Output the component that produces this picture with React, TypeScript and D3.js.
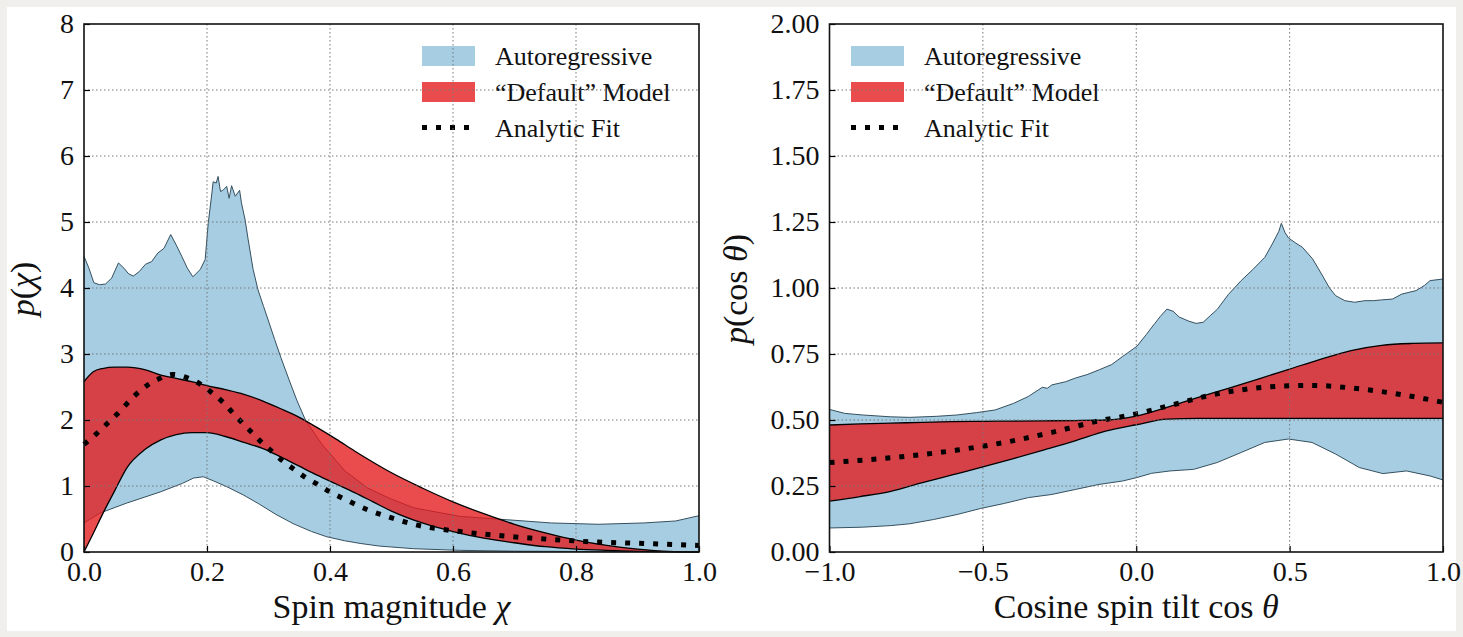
import React, { useEffect, useRef } from 'react';
import * as d3 from 'd3';

// ---- left panel: spin magnitude chi ----
const chiXTicks = [0, 0.2, 0.4, 0.6, 0.8, 1.0];
const chiYTicks = [0, 1, 2, 3, 4, 5, 6, 7, 8];

const chiAutoUpper: [number, number][] = [
  [0.0, 4.48], [0.008, 4.3], [0.016, 4.08], [0.025, 4.05], [0.035, 4.06], [0.045, 4.15],
  [0.056, 4.38], [0.065, 4.3], [0.072, 4.22], [0.08, 4.18], [0.09, 4.25], [0.1, 4.36],
  [0.11, 4.4], [0.12, 4.53], [0.13, 4.6], [0.141, 4.81], [0.15, 4.65], [0.159, 4.48],
  [0.168, 4.3], [0.177, 4.17], [0.189, 4.28], [0.197, 4.43], [0.202, 4.98], [0.208, 5.44],
  [0.21, 5.61], [0.215, 5.59], [0.218, 5.69], [0.222, 5.46], [0.227, 5.49], [0.232, 5.54],
  [0.236, 5.36], [0.24, 5.55], [0.246, 5.39], [0.253, 5.48], [0.256, 5.29], [0.262, 5.03],
  [0.267, 4.73], [0.275, 4.28], [0.283, 3.97], [0.292, 3.72], [0.3, 3.5], [0.31, 3.22],
  [0.32, 2.95], [0.333, 2.62], [0.346, 2.3], [0.36, 2.0], [0.387, 1.63], [0.424, 1.23],
  [0.461, 0.97], [0.5, 0.8], [0.536, 0.67], [0.611, 0.54], [0.686, 0.49], [0.76, 0.44],
  [0.836, 0.42], [0.91, 0.44], [0.962, 0.47], [1.0, 0.55],
];
const chiAutoLower: [number, number][] = [
  [0.0, 0.44], [0.026, 0.59], [0.069, 0.74], [0.124, 0.91], [0.16, 1.04], [0.178, 1.12],
  [0.194, 1.14], [0.21, 1.08], [0.232, 0.99], [0.26, 0.86], [0.286, 0.72], [0.312, 0.57],
  [0.34, 0.43], [0.37, 0.31], [0.395, 0.23], [0.424, 0.17], [0.449, 0.13], [0.48, 0.09],
  [0.536, 0.05], [0.611, 0.025], [0.7, 0.012], [0.8, 0.008], [1.0, 0.005],
];
const chiDefaultX = [0, 0.015, 0.03, 0.05, 0.07, 0.1, 0.125, 0.15, 0.175, 0.2, 0.23, 0.26, 0.29,
  0.32, 0.35, 0.38, 0.41, 0.44, 0.47, 0.5, 0.55, 0.6, 0.65, 0.7, 0.75, 0.8, 0.85, 0.9, 0.95, 1.0];
const chiDefaultUpper = [2.58, 2.73, 2.78, 2.8, 2.8, 2.76, 2.68, 2.63, 2.58, 2.52, 2.46, 2.39, 2.29,
  2.17, 2.04, 1.88, 1.71, 1.53, 1.36, 1.2, 0.97, 0.76, 0.58, 0.42, 0.29, 0.18, 0.1, 0.045, 0.01, 0];
const chiDefaultLower = [0, 0.28, 0.57, 0.93, 1.28, 1.56, 1.7, 1.78, 1.81, 1.81, 1.75, 1.66, 1.57,
  1.44, 1.3, 1.16, 1.03, 0.9, 0.76, 0.62, 0.44, 0.31, 0.21, 0.14, 0.08, 0.045, 0.025, 0.01, 0.003, 0];
const chiFit: [number, number][] = [
  [0.0, 1.63], [0.02, 1.79], [0.037, 1.94], [0.054, 2.09], [0.069, 2.24], [0.086, 2.4],
  [0.102, 2.52], [0.121, 2.62], [0.144, 2.69], [0.168, 2.64], [0.188, 2.55], [0.207, 2.42],
  [0.226, 2.27], [0.241, 2.12], [0.257, 1.96], [0.273, 1.81], [0.289, 1.66], [0.306, 1.52],
  [0.323, 1.38], [0.342, 1.25], [0.36, 1.13], [0.379, 1.03], [0.402, 0.9], [0.424, 0.8],
  [0.461, 0.64], [0.499, 0.52], [0.536, 0.42], [0.611, 0.31], [0.686, 0.24], [0.76, 0.19],
  [0.836, 0.15], [0.91, 0.13], [1.0, 0.1],
];

// ---- right panel: cosine spin tilt ----
const cosXTicks = [-1.0, -0.5, 0.0, 0.5, 1.0];
const cosYTicks = [0, 0.25, 0.5, 0.75, 1.0, 1.25, 1.5, 1.75, 2.0];

const cosAutoUpper: [number, number][] = [
  [-1.0, 0.54], [-0.95, 0.525], [-0.892, 0.519], [-0.8, 0.512], [-0.738, 0.51], [-0.65, 0.514],
  [-0.584, 0.519], [-0.52, 0.528], [-0.46, 0.538], [-0.4, 0.563], [-0.352, 0.589],
  [-0.306, 0.624], [-0.29, 0.62], [-0.275, 0.633], [-0.23, 0.645], [-0.198, 0.659],
  [-0.16, 0.672], [-0.121, 0.69], [-0.08, 0.71], [-0.044, 0.741], [0.002, 0.779],
  [0.033, 0.824], [0.06, 0.865], [0.079, 0.893], [0.1, 0.92], [0.12, 0.912], [0.14, 0.89],
  [0.172, 0.874], [0.195, 0.866], [0.218, 0.87], [0.241, 0.895], [0.264, 0.919], [0.3, 0.975],
  [0.342, 1.028], [0.38, 1.07], [0.419, 1.116], [0.445, 1.17], [0.465, 1.215], [0.473, 1.245],
  [0.485, 1.21], [0.496, 1.19], [0.52, 1.17], [0.542, 1.154], [0.575, 1.11], [0.604, 1.053],
  [0.63, 1.0], [0.65, 0.971], [0.68, 0.952], [0.712, 0.946], [0.745, 0.952], [0.773, 0.952],
  [0.8, 0.955], [0.835, 0.958], [0.866, 0.977], [0.912, 0.99], [0.94, 1.01], [0.958, 1.028],
  [1.0, 1.034],
];
const cosAutoLower: [number, number][] = [
  [-1.0, 0.091], [-0.892, 0.094], [-0.8, 0.1], [-0.738, 0.107], [-0.661, 0.123],
  [-0.584, 0.142], [-0.507, 0.165], [-0.43, 0.184], [-0.352, 0.206], [-0.275, 0.218],
  [-0.198, 0.237], [-0.121, 0.256], [-0.044, 0.269], [0.002, 0.282], [0.05, 0.298],
  [0.11, 0.307], [0.187, 0.313], [0.264, 0.339], [0.342, 0.377], [0.419, 0.415],
  [0.496, 0.428], [0.573, 0.415], [0.65, 0.371], [0.727, 0.32], [0.804, 0.297],
  [0.881, 0.307], [0.958, 0.288], [1.0, 0.273],
];
const cosDefaultX = [-1.0, -0.9, -0.8, -0.7, -0.6, -0.5, -0.4, -0.3, -0.2, -0.1, 0.0,
  0.1, 0.2, 0.3, 0.4, 0.5, 0.6, 0.7, 0.8, 0.9, 1.0];
const cosDefaultUpper = [0.481, 0.485, 0.488, 0.491, 0.494, 0.495, 0.496, 0.497, 0.498, 0.5, 0.515,
  0.548, 0.585, 0.62, 0.656, 0.693, 0.73, 0.763, 0.783, 0.79, 0.792];
const cosDefaultLower = [0.193, 0.21, 0.23, 0.262, 0.292, 0.322, 0.354, 0.387, 0.421, 0.458, 0.482,
  0.503, 0.506, 0.506, 0.506, 0.506, 0.506, 0.506, 0.506, 0.506, 0.506];
const cosFit: [number, number][] = [
  [-1.0, 0.339], [-0.738, 0.364], [-0.584, 0.386], [-0.43, 0.415], [-0.275, 0.453],
  [-0.121, 0.497], [0.0, 0.523], [0.11, 0.555], [0.264, 0.599], [0.419, 0.624],
  [0.573, 0.631], [0.727, 0.618], [0.881, 0.593], [1.0, 0.567],
];

const legendLabels = ['Autoregressive', '\u201cDefault\u201d Model', 'Analytic Fit'];

const BLUE = '#a6cde2';
const BLUE_EDGE = '#35505f';
const RED = '#e41a1c';
const FONT = "'Liberation Serif', 'Times New Roman', 'DejaVu Serif', serif";
const TOP = 24;
const BOTTOM = 552;

function drawPanel(svg: any, cfg: any) {
  const x = d3.scaleLinear().domain(cfg.xDomain).range([cfg.left, cfg.right]);
  const y = d3.scaleLinear().domain(cfg.yDomain).range([BOTTOM, TOP]);
  const g = svg.append('g').style('font-family', FONT);

  // autoregressive band
  const line = d3.line<[number, number]>().x(d => x(d[0])).y(d => y(d[1]));
  const poly = cfg.autoUpper.concat(cfg.autoLower.slice().reverse());
  g.append('path').attr('d', line(poly) + 'Z').attr('fill', BLUE);
  [cfg.autoUpper, cfg.autoLower].forEach((s: any) => {
    g.append('path').attr('d', line(s)).attr('fill', 'none')
      .attr('stroke', BLUE_EDGE).attr('stroke-width', 1);
  });

  // default model band
  const rows = cfg.defX.map((v: number, i: number) => ({ x: v, lo: cfg.defLower[i], hi: cfg.defUpper[i] }));
  const area = d3.area<any>().curve(d3.curveMonotoneX)
    .x(d => x(d.x)).y0(d => y(d.lo)).y1(d => y(d.hi));
  g.append('path').attr('d', area(rows)).attr('fill', RED).attr('fill-opacity', 0.78);
  const hi = d3.line<any>().curve(d3.curveMonotoneX).x(d => x(d.x)).y(d => y(d.hi));
  const lo = d3.line<any>().curve(d3.curveMonotoneX).x(d => x(d.x)).y(d => y(d.lo));
  g.append('path').attr('d', hi(rows)).attr('fill', 'none').attr('stroke', '#000').attr('stroke-width', 1.3);
  g.append('path').attr('d', lo(rows)).attr('fill', 'none').attr('stroke', '#000').attr('stroke-width', 1.3);

  // analytic fit
  const fitLine = d3.line<[number, number]>().curve(d3.curveMonotoneX).x(d => x(d[0])).y(d => y(d[1]));
  g.append('path').attr('d', fitLine(cfg.fit)).attr('fill', 'none')
    .attr('stroke', '#000').attr('stroke-width', 5).attr('stroke-dasharray', '5,9');

  // legend
  const lg = g.append('g').attr('transform', `translate(${cfg.legendX},0)`);
  lg.append('rect').attr('x', 0).attr('y', 46).attr('width', 53).attr('height', 20).attr('fill', BLUE);
  lg.append('rect').attr('x', 0).attr('y', 82).attr('width', 53).attr('height', 20)
    .attr('fill', RED).attr('fill-opacity', 0.78);
  lg.append('line').attr('x1', 0).attr('x2', 53).attr('y1', 127.5).attr('y2', 127.5)
    .attr('stroke', '#000').attr('stroke-width', 5).attr('stroke-dasharray', '5,9');
  legendLabels.forEach((t, i) => {
    lg.append('text').attr('x', 73).attr('y', 65 + i * 36)
      .style('font-family', FONT).attr('font-size', 26).attr('fill', '#111').text(t);
  });

  // grid
  cfg.xTicks.slice(1, -1).forEach((t: number) => {
    g.append('line').attr('x1', x(t)).attr('x2', x(t)).attr('y1', TOP).attr('y2', BOTTOM)
      .attr('stroke', '#777').attr('stroke-width', 1).attr('stroke-dasharray', '1.5,2.5');
  });
  cfg.yTicks.slice(1, -1).forEach((t: number) => {
    g.append('line').attr('x1', cfg.left).attr('x2', cfg.right).attr('y1', y(t)).attr('y2', y(t))
      .attr('stroke', '#777').attr('stroke-width', 1).attr('stroke-dasharray', '1.5,2.5');
  });

  // axes
  const ax = g.append('g').attr('transform', `translate(${cfg.left},0)`)
    .call(d3.axisLeft(y).tickValues(cfg.yTicks).tickSize(-6).tickPadding(10).tickFormat(cfg.yFormat));
  const bx = g.append('g').attr('transform', `translate(0,${BOTTOM})`)
    .call(d3.axisBottom(x).tickValues(cfg.xTicks).tickSize(-6).tickPadding(9).tickFormat(cfg.xFormat));
  [ax, bx].forEach(a => {
    a.attr('font-family', null);
    a.select('.domain').remove();
    a.selectAll('line').attr('stroke', '#000').attr('stroke-width', 1.2);
    a.selectAll('text').style('font-family', FONT).attr('font-size', 28).attr('fill', '#111');
  });

  g.append('rect').attr('x', cfg.left).attr('y', TOP).attr('width', cfg.right - cfg.left)
    .attr('height', BOTTOM - TOP).attr('fill', 'none').attr('stroke', '#111').attr('stroke-width', 1.6);

  // axis labels
  const xl = g.append('text').attr('x', (cfg.left + cfg.right) / 2).attr('y', 618)
    .attr('text-anchor', 'middle').style('font-family', FONT).attr('font-size', 34).attr('fill', '#111');
  xl.append('tspan').text(cfg.xLabel);
  xl.append('tspan').attr('font-style', 'italic').text(cfg.xSym);

  const yl = g.append('text')
    .attr('transform', `translate(${cfg.yLabelX},289) rotate(-90)`)
    .attr('text-anchor', 'middle').style('font-family', FONT).attr('font-size', 34).attr('fill', '#111');
  yl.append('tspan').attr('font-style', 'italic').text('p');
  yl.append('tspan').text('(' + cfg.yInner);
  yl.append('tspan').attr('font-style', 'italic').text(cfg.ySym);
  yl.append('tspan').text(')');
}

const App = () => {
  const ref = useRef<SVGSVGElement>(null);

  useEffect(() => {
    const svg = d3.select(ref.current);
    svg.selectAll('*').remove();

    svg.append('rect').attr('width', 1463).attr('height', 637).attr('fill', '#f1efec');
    svg.append('rect').attr('x', 7).attr('y', 7).attr('width', 1449).attr('height', 624).attr('fill', '#fff');

    drawPanel(svg, {
      left: 84, right: 699, xDomain: [0, 1], yDomain: [0, 8],
      xTicks: chiXTicks, yTicks: chiYTicks,
      xFormat: d3.format('.1f'), yFormat: d3.format('d'),
      autoUpper: chiAutoUpper, autoLower: chiAutoLower,
      defX: chiDefaultX, defUpper: chiDefaultUpper, defLower: chiDefaultLower,
      fit: chiFit, legendX: 422,
      xLabel: 'Spin magnitude ', xSym: '\u03c7',
      yLabelX: 34, yInner: '', ySym: '\u03c7',
    });

    drawPanel(svg, {
      left: 829.5, right: 1443, xDomain: [-1, 1], yDomain: [0, 2],
      xTicks: cosXTicks, yTicks: cosYTicks,
      xFormat: d3.format('.1f'), yFormat: d3.format('.2f'),
      autoUpper: cosAutoUpper, autoLower: cosAutoLower,
      defX: cosDefaultX, defUpper: cosDefaultUpper, defLower: cosDefaultLower,
      fit: cosFit, legendX: 851,
      xLabel: 'Cosine spin tilt cos ', xSym: '\u03b8',
      yLabelX: 747, yInner: 'cos ', ySym: '\u03b8',
    });
  }, []);

  return (
    <svg ref={ref} width={1463} height={637}
      style={{ position: 'absolute', left: 0, top: 0, display: 'block' }} />
  );
};

export default App;
